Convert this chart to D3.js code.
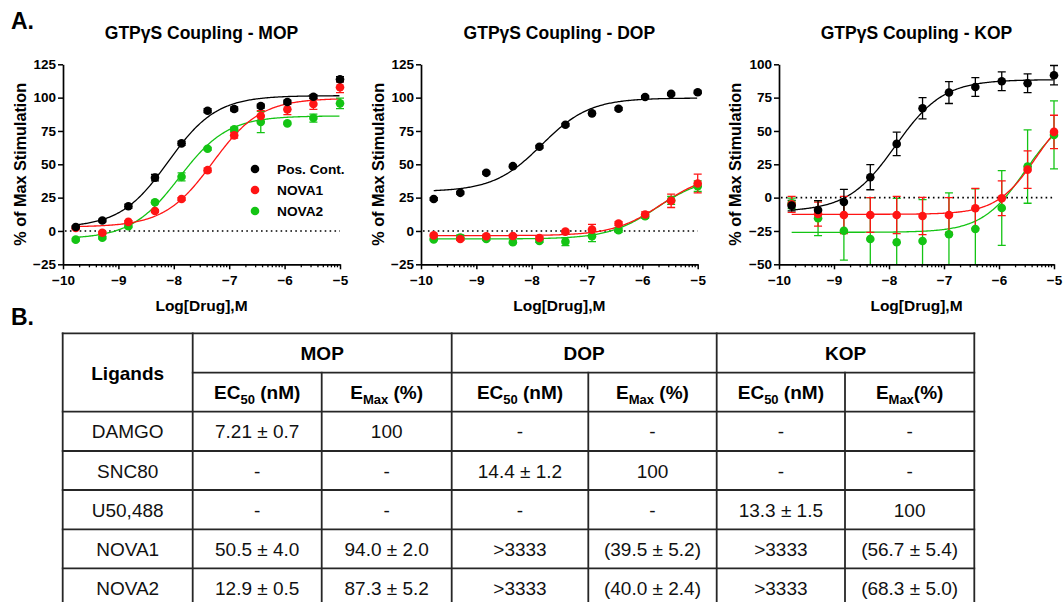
<!DOCTYPE html>
<html><head><meta charset="utf-8">
<script src="https://cdn.jsdelivr.net/npm/d3@7"></script>
<style>
body{margin:0;background:#fff}
svg{display:block}
text{font-family:"Liberation Sans",Arial,Helvetica,sans-serif}
</style>
</head><body>
<svg id="c" width="1063" height="602"></svg>
<script>
// ---------------- DATA ----------------
const logDose = [-9.77, -9.29, -8.82, -8.34, -7.86, -7.39, -6.91, -6.43, -5.95, -5.48, -5.00];
const xMajorTicks = [-10, -9, -8, -7, -6, -5];
const yTicksMD = [-25, 0, 25, 50, 75, 100, 125];
const yTicksK = [-50, -25, 0, 25, 50, 75, 100];
const seriesNames = ["Pos. Cont.", "NOVA1", "NOVA2"];

// MOP
const mopPos      = [3, 7.8, 18.5, 40, 65.7, 90.2, 91.5, 93.7, 96.7, 100.7, 113.8];
const mopPosErr   = [1, 1, 1.5, 2.5, 1.5, 1.5, 1.5, 1.5, 1.5, 1.5, 2];
const mopNova1    = [2.3, -1.3, 6.8, 15, 24, 45.6, 71.7, 86.2, 91.2, 95.2, 107.8];
const mopNova1Err = [1, 1, 1, 1, 1, 1.5, 2, 4, 4, 4, 4];
const mopNova2    = [-6.5, -5, 3.5, 21.5, 40.6, 61.7, 76.2, 81.7, 80.7, 84.7, 95.7];
const mopNova2Err = [1, 1, 1, 1, 3, 1, 1.5, 8, 1, 3, 4];
// fit parameters: [bottom, top, logEC50, hill]
const mopPosFit   = [2.5, 101.5, -8.1, 1];
const mopNova1Fit = [3, 99.5, -7.3, 1];
const mopNova2Fit = [-6, 86.3, -7.9, 1];

// DOP
const dopPos      = [24, 28.6, 43.6, 48.6, 63.2, 79.7, 88.2, 91.7, 100.5, 102.8, 104];
const dopPosErr   = [1, 1, 1, 1, 1, 1, 1, 1, 1, 1, 1];
const dopNova1    = [-3.3, -6, -4, -3.8, -5.3, -0.5, 1, 5.5, 12.3, 22.6, 35.6];
const dopNova1Err = [1, 1, 1, 1, 1, 1, 4, 1.5, 2, 5, 7];
const dopNova2    = [-6.3, -5, -6, -8.5, -7.5, -8, -4, 0.5, 11, 23, 33.6];
const dopNova2Err = [1, 2, 1, 1, 1, 3, 4, 1.5, 1.5, 3, 4];
const dopPosFit   = [29.5, 99.7, -7.82, 1];
const dopNova1Fit = [-3.5, 43.7, -5.65, 1];
const dopNova2Fit = [-6, 40.9, -5.74, 1];

// KOP
const kopPos      = [-6, -9.3, -3.3, 15.3, 40.3, 67, 78.8, 83, 87.3, 85.8, 91.8];
const kopPosErr   = [4, 7, 9.5, 9.4, 8.8, 8, 8.2, 7, 7, 7, 7.3];
const kopNova1    = [-5, -12.3, -13, -13, -13, -13.8, -13, -8, -0.5, 21, 49.3];
const kopNova1Err = [6, 9, 14, 13, 14, 14, 13, 15, 13, 14, 12.5];
const kopNova2    = [-4.3, -15.5, -24.8, -31, -33.5, -32.5, -27.5, -23.5, -7.8, 23.3, 47];
const kopNova2Err = [4, 13, 22, 31, 33, 31, 31, 30, 28, 27.5, 25.5];
const kopPosFit   = [-10.5, 88.5, -7.88, 1];
const kopNova1Fit = [-12.5, 73.3, -5.32, 1.2];
const kopNova2Fit = [-26, 66.6, -5.52, 1.1];

// Table
const tableGroups = ["MOP", "DOP", "KOP"];
const ligands = ["DAMGO", "SNC80", "U50,488", "NOVA1", "NOVA2"];
const mopEC50 = ["7.21 ± 0.7", "-", "-", "50.5 ± 4.0", "12.9 ± 0.5"];
const mopEmax = ["100", "-", "-", "94.0 ± 2.0", "87.3 ± 5.2"];
const dopEC50 = ["-", "14.4 ± 1.2", "-", ">3333", ">3333"];
const dopEmax = ["-", "100", "-", "(39.5 ± 5.2)", "(40.0 ± 2.4)"];
const kopEC50 = ["-", "-", "13.3 ± 1.5", ">3333", ">3333"];
const kopEmax = ["-", "-", "100", "(56.7 ± 5.4)", "(68.3 ± 5.0)"];

// ---------------- STYLE / LAYOUT ----------------
const BLACK = "#000", RED = "#ff1414", GREEN = "#14c414";
const svg = d3.select("#c");
const FONT = '"Liberation Sans",Arial,Helvetica,sans-serif';

svg.append("text").attr("x", 11).attr("y", 28.5).attr("font-size", 23).attr("font-weight", "bold").text("A.");
svg.append("text").attr("x", 11).attr("y", 325).attr("font-size", 23).attr("font-weight", "bold").text("B.");

const panels = [
  { title: "GTPγS Coupling - MOP", x0: 63, x1: 340, yDom: [-25, 125], yTicks: yTicksMD, ylx: 26, legend: true,
    series: [
      { v: mopNova2, e: mopNova2Err, fit: mopNova2Fit, c: GREEN },
      { v: mopNova1, e: mopNova1Err, fit: mopNova1Fit, c: RED },
      { v: mopPos, e: mopPosErr, fit: mopPosFit, c: BLACK } ] },
  { title: "GTPγS Coupling - DOP", x0: 421, x1: 697.7, yDom: [-25, 125], yTicks: yTicksMD, ylx: 384,
    series: [
      { v: dopNova2, e: dopNova2Err, fit: dopNova2Fit, c: GREEN },
      { v: dopNova1, e: dopNova1Err, fit: dopNova1Fit, c: RED },
      { v: dopPos, e: dopPosErr, fit: dopPosFit, c: BLACK } ] },
  { title: "GTPγS Coupling - KOP", x0: 779, x1: 1054, yDom: [-50, 100], yTicks: yTicksK, ylx: 741,
    series: [
      { v: kopNova2, e: kopNova2Err, fit: kopNova2Fit, c: GREEN },
      { v: kopNova1, e: kopNova1Err, fit: kopNova1Fit, c: RED },
      { v: kopPos, e: kopPosErr, fit: kopPosFit, c: BLACK } ] }
];
const yTop = 64.3, yBot = 264.3;

function sig(p, x) { return p[0] + (p[1] - p[0]) / (1 + Math.pow(10, (p[2] - x) * p[3])); }

panels.forEach((P, pi) => {
  const g = svg.append("g");
  const x = d3.scaleLinear().domain([-10, -5]).range([P.x0, P.x1]);
  const y = d3.scaleLinear().domain(P.yDom).range([yBot, yTop]);
  const clipId = "clip" + pi;
  svg.append("clipPath").attr("id", clipId).append("rect")
    .attr("x", P.x0 - 10).attr("y", yTop - 30).attr("width", P.x1 - P.x0 + 20).attr("height", yBot - yTop + 30);

  // title
  g.append("text").attr("x", (P.x0 + P.x1) / 2).attr("y", 38.5).attr("text-anchor", "middle")
    .attr("font-size", 17.5).attr("font-weight", "bold").text(P.title);

  // zero dotted line
  g.append("line").attr("x1", P.x0 + 2).attr("x2", P.x1).attr("y1", y(0)).attr("y2", y(0))
    .attr("stroke", "#000").attr("stroke-width", 1.6).attr("stroke-dasharray", "1.6,3.3");

  const plot = g.append("g").attr("clip-path", `url(#${clipId})`);
  P.series.forEach(s => {
    // curve
    const xs = d3.range(logDose[0], logDose[logDose.length - 1] + 0.001, 0.02);
    plot.append("path").datum(xs)
      .attr("d", d3.line().x(d => x(d)).y(d => y(sig(s.fit, d))))
      .attr("fill", "none").attr("stroke", s.c).attr("stroke-width", 1.3);
  });
  P.series.forEach(s => {
    // error bars
    const eb = plot.append("g").attr("stroke", s.c).attr("stroke-width", 1.3);
    logDose.forEach((d, i) => {
      const xx = x(d), hi = y(s.v[i] + s.e[i]), lo = y(s.v[i] - s.e[i]);
      eb.append("line").attr("x1", xx).attr("x2", xx).attr("y1", hi).attr("y2", lo);
      eb.append("line").attr("x1", xx - 4).attr("x2", xx + 4).attr("y1", hi).attr("y2", hi);
      eb.append("line").attr("x1", xx - 4).attr("x2", xx + 4).attr("y1", lo).attr("y2", lo);
    });
    // markers
    g.append("g").selectAll("circle").data(logDose).join("circle")
      .attr("cx", d => x(d)).attr("cy", (d, i) => y(s.v[i])).attr("r", 4.3).attr("fill", s.c);
  });

  // y axis
  const ya = g.append("g").attr("transform", `translate(${P.x0},0)`)
    .call(d3.axisLeft(y).tickValues(P.yTicks).tickSize(5).tickSizeOuter(0).tickPadding(2).tickFormat(d3.format("d")));
  // x axis
  const xa = g.append("g").attr("transform", `translate(0,${yBot})`)
    .call(d3.axisBottom(x).tickValues(xMajorTicks).tickSize(5).tickSizeOuter(0).tickPadding(6.5).tickFormat(d3.format("d")));
  [ya, xa].forEach(a => {
    a.select(".domain").attr("stroke", "#000").attr("stroke-width", 1.7);
    a.selectAll(".tick line").attr("stroke", "#000").attr("stroke-width", 1.5);
    a.selectAll(".tick text").attr("font-family", FONT).attr("font-size", 13.5).attr("font-weight", "bold").attr("fill", "#000");
  });
  // minor log ticks
  const minor = [];
  xMajorTicks.slice(0, -1).forEach(m => { for (let k = 2; k <= 9; k++) minor.push(m + Math.log10(k)); });
  xa.selectAll(".minor").data(minor).join("line").attr("class", "minor")
    .attr("x1", d => x(d)).attr("x2", d => x(d)).attr("y1", 0).attr("y2", 3)
    .attr("stroke", "#000").attr("stroke-width", 1.3);

  // axis labels
  g.append("text").attr("x", (P.x0 + P.x1) / 2).attr("y", 311).attr("text-anchor", "middle")
    .attr("font-size", 15.5).attr("font-weight", "bold").text("Log[Drug],M");
  g.append("text").attr("transform", `translate(${P.ylx},${(yTop + yBot) / 2}) rotate(-90)`)
    .attr("text-anchor", "middle").attr("font-size", 16.2).attr("font-weight", "bold").text("% of Max Stimulation");

  if (P.legend) {
    const cols = [BLACK, RED, GREEN];
    seriesNames.forEach((n, i) => {
      const ly = 169 + i * 21;
      g.append("circle").attr("cx", 255).attr("cy", ly).attr("r", 4.3).attr("fill", cols[i]);
      g.append("text").attr("x", 277).attr("y", ly + 5).attr("font-size", 13.7).attr("font-weight", "bold").text(n);
    });
  }
});

// ---------------- TABLE ----------------
const colX = [62.7, 192.7, 321.7, 451.7, 588.3, 716.7, 845, 974.3];
const rowY = [333.3, 372.7, 411.7, 451, 490, 529.3, 568.3, 607.5];
const tg = svg.append("g");
const LS = "#262626", LW = 1.8;
function ln(x1, y1, x2, y2) {
  tg.append("line").attr("x1", x1).attr("y1", y1).attr("x2", x2).attr("y2", y2)
    .attr("stroke", LS).attr("stroke-width", LW).attr("stroke-linecap", "square");
}
// horizontals
ln(colX[0], rowY[0], colX[7], rowY[0]);
ln(colX[1], rowY[1], colX[7], rowY[1]);
for (let r = 2; r < rowY.length; r++) ln(colX[0], rowY[r], colX[7], rowY[r]);
// verticals
[0, 1, 3, 5, 7].forEach(c => ln(colX[c], rowY[0], colX[c], rowY[7]));
[2, 4, 6].forEach(c => ln(colX[c], rowY[1], colX[c], rowY[7]));

const cx = i => (colX[i] + colX[i + 1]) / 2;
const cy = r => (rowY[r] + rowY[r + 1]) / 2;
tg.append("text").attr("x", cx(0)).attr("y", (rowY[0] + rowY[2]) / 2 + 7).attr("text-anchor", "middle")
  .attr("font-size", 19).attr("font-weight", "bold").text("Ligands");
tableGroups.forEach((gname, gi) => {
  tg.append("text").attr("x", (colX[1 + gi * 2] + colX[3 + gi * 2]) / 2).attr("y", cy(0) + 7)
    .attr("text-anchor", "middle").attr("font-size", 19).attr("font-weight", "bold").text(gname);
  // EC50
  const t1 = tg.append("text").attr("x", cx(1 + gi * 2)).attr("y", cy(1) + 7).attr("text-anchor", "middle")
    .attr("font-size", 19).attr("font-weight", "bold");
  t1.append("tspan").text("EC");
  t1.append("tspan").attr("font-size", 13).attr("dy", 5).text("50");
  t1.append("tspan").attr("dy", -5).text(" (nM)");
  // Emax
  const t2 = tg.append("text").attr("x", cx(2 + gi * 2)).attr("y", cy(1) + 7).attr("text-anchor", "middle")
    .attr("font-size", 19).attr("font-weight", "bold");
  t2.append("tspan").text("E");
  t2.append("tspan").attr("font-size", 13).attr("dy", 5).text("Max");
  t2.append("tspan").attr("dy", -5).text(gi === 2 ? "(%)" : " (%)");
});
const cols = [ligands, mopEC50, mopEmax, dopEC50, dopEmax, kopEC50, kopEmax];
cols.forEach((col, ci) => {
  col.forEach((v, ri) => {
    tg.append("text").attr("x", cx(ci)).attr("y", cy(ri + 2) + 7).attr("text-anchor", "middle")
      .attr("font-size", 19).attr("fill", "#111").text(v);
  });
});
</script>
</body></html>
